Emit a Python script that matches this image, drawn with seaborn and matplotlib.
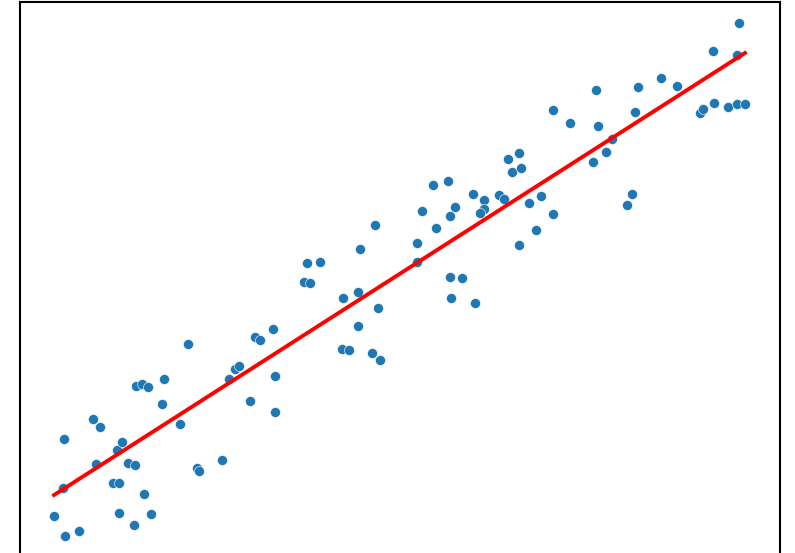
import matplotlib
matplotlib.use("Agg")
import matplotlib.pyplot as plt
import seaborn as sns
import pandas as pd

# Observations
x = [0, 11, 25, 10, 9, 39, 46, 42, 59, 65, 63, 68, 74, 81, 90, 65, 80, 97,
     82, 88, 94, 110, 108, 126, 134, 143, 145, 168, 175, 181, 185, 196, 201,
     206, 219, 221, 221, 250, 256, 289, 304, 324, 304, 288, 295, 318, 326,
     321, 306, 253, 266, 686, 660, 684, 608, 585, 624, 543, 500, 517, 545,
     582, 647, 650, 661, 675, 684, 692, 559, 553, 540, 466, 455, 459, 468,
     380, 395, 420, 431, 446, 451, 488, 476, 402, 369, 397, 431, 427, 500,
     579, 574, 383, 483, 364, 466, 364, 397, 409, 398, 422]
y = [41, 21, 26, 118, 69, 138, 130, 93, 74, 74, 107, 115, 94, 92, 63, 44, 32,
     43, 171, 173, 170, 178, 153, 133, 213, 89, 86, 97, 178, 188, 191, 156,
     220, 217, 228, 181, 145, 275, 274, 259, 265, 249, 231, 208, 207, 204,
     197, 332, 308, 294, 295, 534, 506, 502, 479, 470, 471, 467, 447, 434,
     431, 445, 444, 448, 454, 450, 453, 453, 418, 405, 395, 404, 398, 385,
     389, 372, 376, 363, 357, 362, 358, 361, 354, 350, 346, 341, 348, 344,
     343, 363, 352, 329, 327, 314, 312, 295, 280, 279, 259, 254]

# Fitted trend line endpoints
line_x = [0, 692]
line_y = [62, 504]

df = pd.DataFrame({"x": x, "y": y})
line_df = pd.DataFrame({"x": line_x, "y": line_y})

fig = plt.figure(figsize=(7.95, 5.53), dpi=100)
ax = fig.add_axes([19.5 / 795, -4 / 553, 760 / 795, 555 / 553])

sns.scatterplot(data=df, x="x", y="y", ax=ax, s=52, color="#1f77b4",
                edgecolor="white", linewidth=0.4, zorder=2)
sns.lineplot(data=line_df, x="x", y="y", ax=ax, color="red", linewidth=2.8,
             zorder=3)

ax.set_xlim(-34.6, 726.6)
ax.set_ylim(0, 555)
ax.set_xticks([])
ax.set_yticks([])
ax.set_xlabel("")
ax.set_ylabel("")
for sp in ax.spines.values():
    sp.set_color("black")
    sp.set_linewidth(1.5)

fig.savefig("out.png", dpi=100)
